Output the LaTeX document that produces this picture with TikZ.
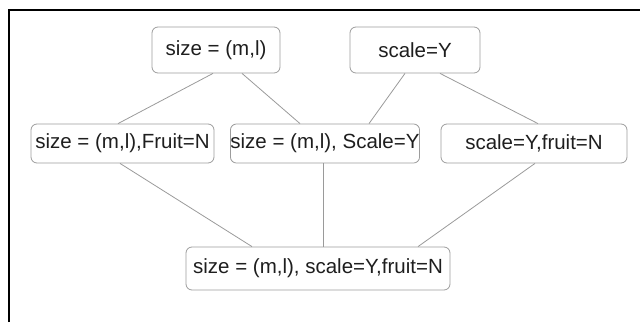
\documentclass[tikz,border=0pt]{standalone}
\usepackage{fontspec}
\setmainfont{Liberation Sans}
\usepackage{xcolor}
\usetikzlibrary{positioning,calc}
\definecolor{boxline}{HTML}{9C9C9C}
\definecolor{edgeline}{HTML}{9A9A9A}
\definecolor{labeltext}{HTML}{1E1E1E}

\begin{document}
\begin{tikzpicture}[
    x=1pt, y=1pt,
    cond/.style={rectangle, draw=boxline, line width=0.8pt, rounded corners=6pt, inner sep=0pt, minimum height=39pt, text=labeltext, font=\fontsize{20.5}{24}\selectfont},
    link/.style={draw=edgeline, line width=0.8pt}
]
\useasboundingbox (0,0) rectangle (640,322);

% Frame
\draw[line width=1.2pt] (9,0) |- (640,312);

% Top layer
\node[cond, minimum width=128pt, minimum height=46pt] (size) at (216,272) {size = (m,l)};
\node[cond, minimum width=130pt, minimum height=46pt] (scale) at (415,272) {scale=Y};

% Middle layer
\node[cond, minimum width=183pt] (sizefruit) at (122.5,178.5) {size = (m,l),Fruit=N};
\node[cond, minimum width=186pt] (sizescale) at (325,178.5) {size = (m,l), Scale=Y};
\node[cond, minimum width=186pt] (scalefruit) at (534,178.5) {scale=Y,fruit=N};

% Bottom layer
\node[cond, minimum width=264pt, minimum height=43pt] (all) at (318,53.5) {size = (m,l), scale=Y,fruit=N};

% Links
\draw[link] ([xshift=-3pt]size.south) -- ([xshift=-4.5pt]sizefruit.north);
\draw[link] ([xshift=26pt]size.south) -- ([xshift=-25pt]sizescale.north);
\draw[link] ([xshift=-10pt]scale.south) -- ([xshift=44pt]sizescale.north);
\draw[link] ([xshift=25pt]scale.south) -- ([xshift=4pt]scalefruit.north);
\draw[link] ([xshift=-2.5pt]sizefruit.south) -- ([xshift=-66pt]all.north);
\draw[link] ([xshift=-2pt]sizescale.south) -- ([xshift=5pt]all.north);
\draw[link] ([xshift=1pt]scalefruit.south) -- ([xshift=100pt]all.north);

\end{tikzpicture}
\end{document}
